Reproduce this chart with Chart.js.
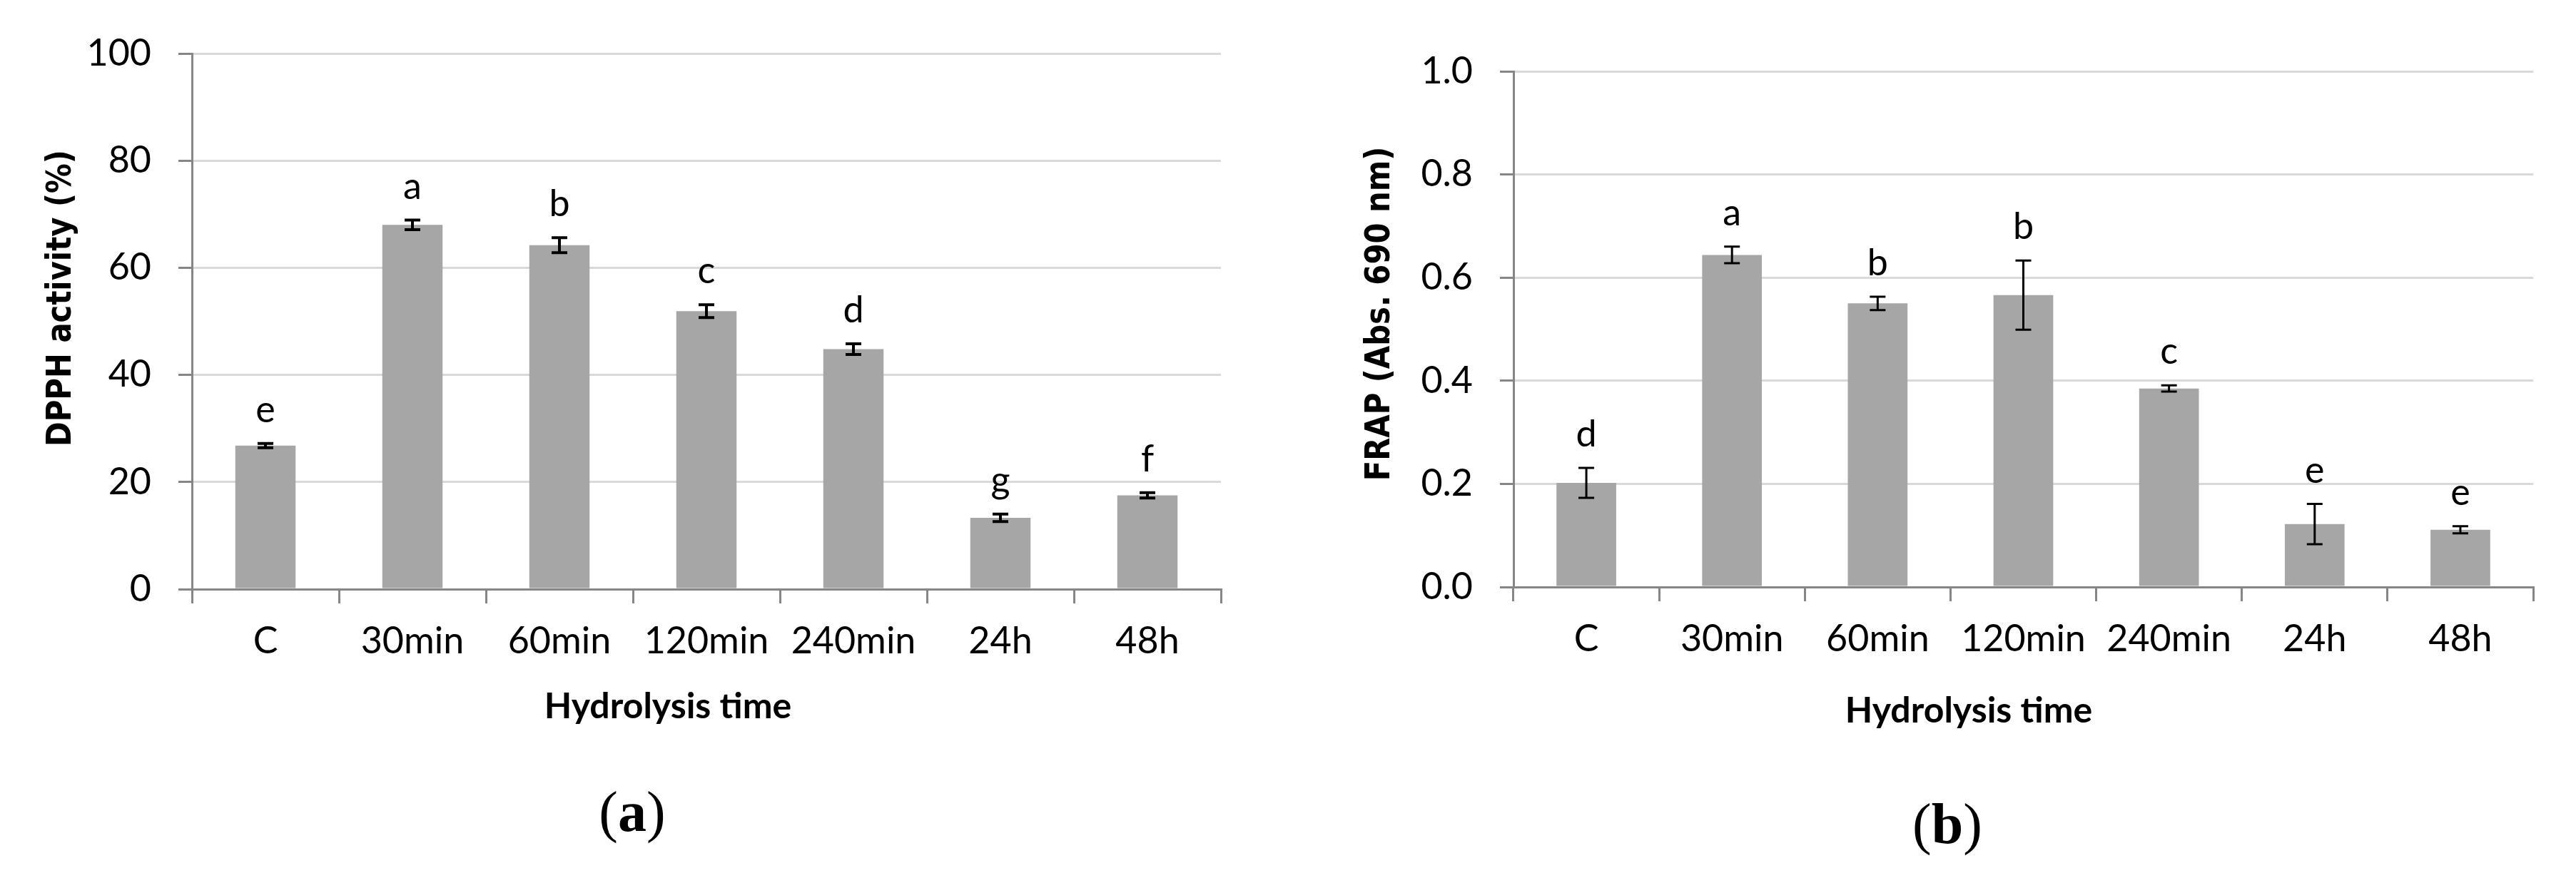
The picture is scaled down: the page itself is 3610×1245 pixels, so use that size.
<!DOCTYPE html>
<html>
<head>
<meta charset="utf-8">
<script src="https://cdn.jsdelivr.net/npm/chart.js"></script>
<style>
  html, body { margin: 0; padding: 0; background: #fff; }
  body { width: 3610px; height: 1245px; position: relative; overflow: hidden; }
  canvas { position: absolute; top: 0; }
  #chartA { left: 0; }
  #chartB { left: 1800px; }
</style>
</head>
<body>
<canvas id="chartA" width="1790" height="1245"></canvas>
<canvas id="chartB" width="1810" height="1245"></canvas>
<script>
// data
var categories = ['C', '30min', '60min', '120min', '240min', '24h', '48h'];

var dpphValues  = [26.8, 68.0, 64.2, 51.9, 44.8, 13.3, 17.5];
var dpphErrors  = [0.4, 0.9, 1.4, 1.2, 1.0, 0.7, 0.5];
var dpphLetters = ['e', 'a', 'b', 'c', 'd', 'g', 'f'];
var dpphTicks   = [0, 20, 40, 60, 80, 100];

var frapValues  = [0.202, 0.644, 0.550, 0.566, 0.385, 0.122, 0.111];
var frapErrors  = [0.029, 0.016, 0.013, 0.067, 0.006, 0.039, 0.007];
var frapLetters = ['d', 'a', 'b', 'b', 'c', 'e', 'e'];
var frapTicks   = [0.0, 0.2, 0.4, 0.6, 0.8, 1.0];

Chart.defaults.font.family = 'Lato';

// error bars + significance letters on top of bars
var errorBarPlugin = {
  id: 'errorBars',
  afterDatasetsDraw: function (chart, args, opts) {
    var ctx = chart.ctx;
    var y = chart.scales.y;
    var meta = chart.getDatasetMeta(0);
    var values = chart.data.datasets[0].data;
    ctx.save();
    meta.data.forEach(function (bar, i) {
      var v = values[i], e = opts.errors[i];
      var top = y.getPixelForValue(v + e);
      var bot = y.getPixelForValue(v - e);
      ctx.strokeStyle = '#000';
      ctx.lineWidth = opts.lineWidth;
      ctx.beginPath();
      ctx.moveTo(bar.x, top);
      ctx.lineTo(bar.x, bot);
      ctx.moveTo(bar.x - 11, top);
      ctx.lineTo(bar.x + 11, top);
      ctx.moveTo(bar.x - 11, bot);
      ctx.lineTo(bar.x + 11, bot);
      ctx.stroke();
      // letter
      ctx.fillStyle = '#000';
      ctx.font = '52px Lato';
      ctx.textAlign = 'center';
      ctx.textBaseline = 'alphabetic';
      ctx.fillText(opts.letters[i], bar.x, top - 30);
    });
    ctx.restore();
  }
};

// axis titles and panel label, placed like the original figure
var titlesPlugin = {
  id: 'panelTitles',
  afterDraw: function (chart, args, o) {
    var ctx = chart.ctx;
    ctx.save();
    // y title, rotated
    ctx.translate(o.yTitleX, o.yTitleY);
    ctx.rotate(-Math.PI / 2);
    ctx.scale(0.87, 1);
    ctx.font = 'bold 48px "DejaVu Sans"';
    ctx.fillStyle = '#000';
    ctx.textAlign = 'center';
    ctx.textBaseline = 'middle';
    ctx.fillText(o.yTitle, 0, 0);
    ctx.restore();

    ctx.save();
    ctx.font = 'bold 50px Lato';
    ctx.fillStyle = '#000';
    ctx.textAlign = 'center';
    ctx.textBaseline = 'alphabetic';
    ctx.fillText(o.xTitle, o.xTitleX, o.xTitleY);

    // (a) / (b)
    ctx.font = '80px "Liberation Serif"';
    var wp = ctx.measureText('(').width;
    var wq = ctx.measureText(')').width;
    ctx.font = 'bold 80px "Liberation Serif"';
    var wl = ctx.measureText(o.panel).width;
    var x0 = o.panelX - (wp + wl + wq) / 2;
    ctx.textAlign = 'left';
    ctx.font = '80px "Liberation Serif"';
    ctx.fillText('(', x0, o.panelY);
    ctx.font = 'bold 80px "Liberation Serif"';
    ctx.fillText(o.panel, x0 + wp, o.panelY);
    ctx.font = '80px "Liberation Serif"';
    ctx.fillText(')', x0 + wp + wl, o.panelY);
    ctx.restore();
  }
};

function makeChart(id, values, opts) {
  var ctx = document.getElementById(id).getContext('2d');
  return new Chart(ctx, {
    type: 'bar',
    data: {
      labels: categories,
      datasets: [{
        data: values,
        backgroundColor: '#a6a6a6',
        borderWidth: 0,
        categoryPercentage: 1.0,
        barPercentage: 0.41
      }]
    },
    options: {
      responsive: false,
      devicePixelRatio: 1,
      animation: false,
      layout: { padding: opts.padding },
      plugins: {
        legend: { display: false },
        tooltip: { enabled: false },
        errorBars: { errors: opts.errors, letters: opts.letters, lineWidth: opts.errWidth },
        panelTitles: opts.titles
      },
      scales: {
        x: {
          offset: true,
          grid: {
            offset: true,
            drawOnChartArea: false,
            drawTicks: true,
            tickLength: 20,
            color: '#868686',
            lineWidth: 3
          },
          border: { color: '#868686', width: 3 },
          ticks: {
            color: '#000',
            font: { size: 52 },
            padding: 22,
            maxRotation: 0,
            autoSkip: false
          },
          afterFit: function (scale) { scale.height = 150; }
        },
        y: {
          min: opts.ticks[0],
          max: opts.ticks[opts.ticks.length - 1],
          afterBuildTicks: function (scale) {
            scale.ticks = opts.ticks.map(function (v) { return { value: v }; });
          },
          grid: {
            color: function (c) { return c.tick && c.tick.value === 0 ? '#868686' : '#d9d9d9'; },
            lineWidth: 3,
            tickColor: '#868686',
            tickLength: 19,
            drawTicks: true
          },
          border: { color: '#868686', width: 3 },
          ticks: {
            color: '#000',
            font: { size: 52 },
            padding: 38,
            callback: opts.fmt
          },
          afterFit: function (scale) { scale.width = opts.yWidth; }
        }
      }
    },
    plugins: [errorBarPlugin, titlesPlugin]
  });
}

makeChart('chartA', dpphValues, {
  errors: dpphErrors,
  letters: dpphLetters,
  ticks: dpphTicks,
  errWidth: 4,
  fmt: function (v) { return String(v); },
  padding: { left: 0, top: 75, right: 79, bottom: 269 },
  yWidth: 269,
  titles: {
    yTitle: 'DPPH activity (%)', yTitleX: 87, yTitleY: 418,
    xTitle: 'Hydrolysis time', xTitleX: 936, xTitleY: 1007,
    panel: 'a', panelX: 886, panelY: 1165
  }
});

makeChart('chartB', frapValues, {
  errors: frapErrors,
  letters: frapLetters,
  ticks: frapTicks,
  errWidth: 3,
  fmt: function (v) { return Number(v).toFixed(1); },
  padding: { left: 0, top: 100, right: 60, bottom: 272 },
  yWidth: 321,
  titles: {
    yTitle: 'FRAP (Abs. 690 nm)', yTitleX: 135, yTitleY: 440,
    xTitle: 'Hydrolysis time', xTitleX: 959, xTitleY: 1013,
    panel: 'b', panelX: 929, panelY: 1182
  }
});
</script>
</body>
</html>
